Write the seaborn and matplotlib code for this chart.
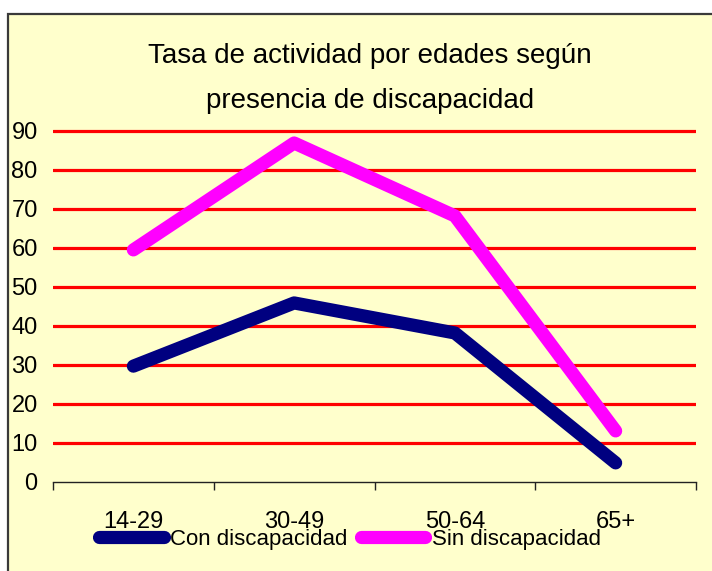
import numpy as np
import pandas as pd
import matplotlib
matplotlib.use("Agg")
import matplotlib.pyplot as plt
from matplotlib.patches import Rectangle
import seaborn as sns

edades = ["14-29", "30-49", "50-64", "65+"]
con_discapacidad = [29.7, 45.9, 38.2, 4.9]
sin_discapacidad = [59.5, 86.9, 68.2, 13.1]
grupos = ["Con discapacidad", "Sin discapacidad"]
colores = ["#000080", "#FF00FF"]

df = pd.DataFrame({
    "edad": edades * 2,
    "tasa": con_discapacidad + sin_discapacidad,
    "grupo": [grupos[0]] * 4 + [grupos[1]] * 4,
})

sns.set_style("white")
plt.rcParams["font.family"] = ["Liberation Sans", "DejaVu Sans"]
plt.rcParams["text.color"] = "black"
plt.rcParams["xtick.color"] = "black"
plt.rcParams["ytick.color"] = "black"

fig = plt.figure(figsize=(7.12, 5.71), dpi=100)
fig.patch.set_facecolor("white")
fig.add_artist(Rectangle((7.5 / 712, -0.05), 1.1, 1 - 13.5 / 571 + 0.05,
                         transform=fig.transFigure, facecolor="#FFFFCC",
                         edgecolor="#3a3a3a", linewidth=1.6, zorder=0))

ax = fig.add_axes([53 / 712, 1 - 482 / 571, 643 / 712, (482 - 127) / 571])
ax.set_facecolor("none")

sns.lineplot(data=df, x="edad", y="tasa", hue="grupo", palette=colores,
             linewidth=9.5, sort=False, ax=ax, zorder=3,
             solid_capstyle="round", solid_joinstyle="round")

ax.set_xlim(-0.5, 3.5)
ax.set_ylim(0, 91)
ax.set_yticks(range(0, 100, 10))
ax.set_xticks(range(4))
ax.set_xticks(np.arange(-0.5, 4, 1), minor=True)
ax.set_xlabel("")
ax.set_ylabel("")

ax.yaxis.grid(True, color="#FF0000", linewidth=2.3)
ax.get_ygridlines()[0].set_visible(False)
ax.set_axisbelow(True)

for s in ["left", "right", "top"]:
    ax.spines[s].set_visible(False)
ax.spines["bottom"].set_color("#222222")
ax.spines["bottom"].set_linewidth(1)

ax.tick_params(axis="y", length=0, pad=11, labelsize=17, labelcolor="black")
ax.tick_params(axis="x", which="major", bottom=True, length=0, pad=21,
               labelsize=17, labelcolor="black")
ax.tick_params(axis="x", which="minor", bottom=True, length=6, width=1,
               direction="out", color="#222222")

fig.text(0.52, 1 - 63 / 571, "Tasa de actividad por edades según",
         ha="center", va="baseline", fontsize=20, color="black")
fig.text(0.52, 1 - 108 / 571, "presencia de discapacidad",
         ha="center", va="baseline", fontsize=20, color="black")

leg = ax.legend(loc="center left", bbox_to_anchor=(88 / 712, 1 - 539 / 571),
                bbox_transform=fig.transFigure, ncol=2, frameon=False,
                borderpad=0, handlelength=2.9, handletextpad=0.3,
                columnspacing=0.6, fontsize=16)
for h in leg.get_lines():
    h.set_linewidth(9.5)
    h.set_solid_capstyle("round")
for t in leg.get_texts():
    t.set_color("black")

fig.savefig("out.png", dpi=100)
